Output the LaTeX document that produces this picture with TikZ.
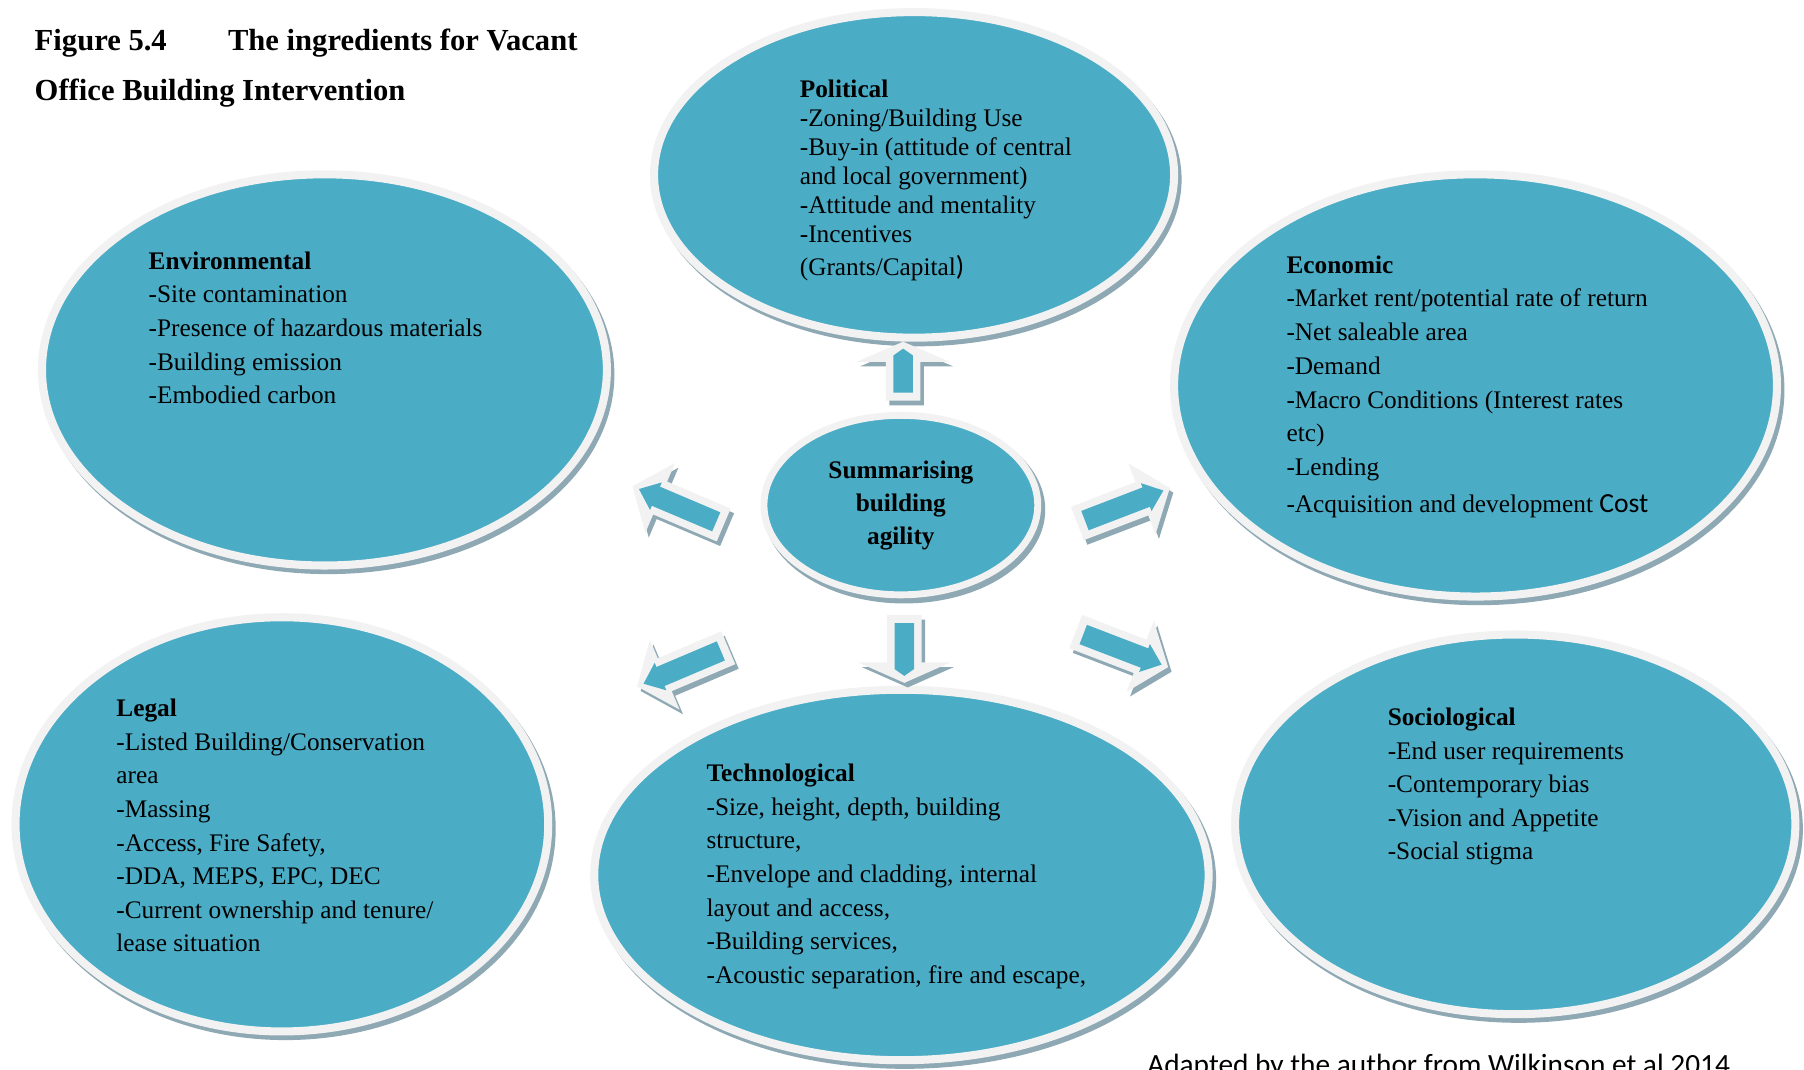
\documentclass[tikz,border=0pt]{standalone}
\usepackage{fontspec}
\setmainfont{Liberation Serif}
\newfontfamily\calib{Carlito}
\usetikzlibrary{shapes.geometric}
\definecolor{tealc}{HTML}{4BACC6}
\definecolor{rimc}{HTML}{F2F2F2}
\definecolor{shadowc}{HTML}{8EA9B4}
% a left-aligned stack of lines whose baseline is the first line
\newcommand\itemstack[1]{\begin{tabular}[t]{@{}l@{}}#1\end{tabular}}
% block arrow with a light rim and a teal core
% #1,#2 tail centre, #3 direction, #4 length, #5 head length, #6 head half-width,
% #7 shaft half-width, #8 core head half-width, #9 core head length
\newcommand\fatarrowat[9]{%
  \pgfmathsetmacro\shaftend{#4-#5}%
  \pgfmathsetmacro\corew{#7-6.5}%
  \pgfmathsetmacro\coretip{#4-6}%
  \pgfmathsetmacro\corehead{#4-6-#9}%
  \begin{scope}[shift={(#1+3,#2+4)}, rotate=#3]
    \fill[shadowc] (0,-#7) -- (\shaftend,-#7) -- (\shaftend,-#6) -- (#4,0)
      -- (\shaftend,#6) -- (\shaftend,#7) -- (0,#7) -- cycle;
  \end{scope}
  \begin{scope}[shift={(#1,#2)}, rotate=#3]
    \fill[rimc] (0,-#7) -- (\shaftend,-#7) -- (\shaftend,-#6) -- (#4,0)
      -- (\shaftend,#6) -- (\shaftend,#7) -- (0,#7) -- cycle;
    \fill[tealc] (7,-\corew) -- (\corehead,-\corew) -- (\corehead,-#8) -- (\coretip,0)
      -- (\corehead,#8) -- (\corehead,\corew) -- (7,\corew) -- cycle;
  \end{scope}}
\tikzset{
  oval/.style={ellipse, fill=tealc, draw=rimc, line width=7pt, inner sep=0pt, outer sep=0pt,
    preaction={fill=shadowc, draw=shadowc, line width=7pt, transform canvas={shift={(3pt,-4pt)}}}},
  bodytext/.style={anchor=base west, inner sep=0pt, text=black, font=\fontsize{22}{29.2}\selectfont},
  titletext/.style={anchor=base west, inner sep=0pt, text=black, font=\fontsize{26.6}{30}\selectfont\bfseries},
}
\begin{document}
\begin{tikzpicture}[x=1pt, y=-1pt]
\useasboundingbox (0,0) rectangle (1568,930);
\fill[white] (0,0) rectangle (1568,930);

% heading
\node[titletext] (figno) at (30,43.5) {Figure 5.4};
\node[titletext] (figtitle) at (198,43.5) {The ingredients for Vacant};
\node[titletext] (figtitle2) at (30,87) {Office Building Intervention};

% the seven ovals
\node[oval, minimum width=452pt, minimum height=283pt] (political) at (794.5,152) {};
\node[oval, minimum width=491pt, minimum height=340pt] (environmental) at (282,321.5) {};
\node[oval, minimum width=524pt, minimum height=367pt] (economic) at (1282.5,335) {};
\node[oval, line width=6pt, preaction={line width=6pt}, minimum width=238pt, minimum height=156pt] (centre) at (783,439) {};
\node[oval, minimum width=463pt, minimum height=360pt] (legal) at (245,716.5) {};
\node[oval, minimum width=534pt, minimum height=322pt] (technological) at (783.5,760.5) {};
\node[oval, minimum width=487pt, minimum height=330pt] (sociological) at (1317,716.5) {};

% block arrows from the centre outwards
\fatarrowat{785}{348.3}{90}{51.3}{17.5}{40.5}{15}{8.5}{6}
\fatarrowat{786}{534.5}{-90}{59}{17.7}{40}{15}{8.5}{6}
\fatarrowat{629}{456.3}{157}{86}{26}{33}{15.5}{13}{16}
\fatarrowat{936.5}{455}{21}{86}{26}{33}{15.5}{13}{16}
\fatarrowat{633}{563}{203}{86}{26}{33}{15.5}{13}{16}
\fatarrowat{935}{549}{-21}{86}{26}{33}{15.5}{13}{16}

% texts
\node[anchor=base, inner sep=0pt, font=\fontsize{22}{29}\selectfont\bfseries] (centretext) at (783,415.6)
  {\begin{tabular}[t]{@{}c@{}}Summarising\\building\\agility\end{tabular}};

\node[bodytext, font=\fontsize{22}{25.2}\selectfont] (politicaltext) at (695,84.5) {\itemstack{%
  \textbf{Political}\\-Zoning/Building Use\\-Buy-in (attitude of central\\and local government)\\%
  -Attitude and mentality\\-Incentives\\[4pt](Grants/Capital{\calib\fontsize{24}{25}\selectfont)}}};

\node[bodytext] (environmentaltext) at (129,234) {\itemstack{%
  \textbf{Environmental}\\-Site contamination\\-Presence of hazardous materials\\%
  -Building emission\\-Embodied carbon}};

\node[bodytext, font=\fontsize{22}{29.3}\selectfont] (economictext) at (1118,237.5) {\itemstack{%
  \textbf{Economic}\\-Market rent/potential rate of return\\-Net saleable area\\-Demand\\%
  -Macro Conditions (Interest rates\\etc)\\-Lending\\[3pt]%
  -Acquisition and development {\calib\fontsize{24}{29}\selectfont Cost}}};

\node[bodytext] (legaltext) at (101,623) {\itemstack{%
  \textbf{Legal}\\-Listed Building/Conservation\\area\\-Massing\\-Access, Fire Safety,\\%
  -DDA, MEPS, EPC, DEC\\-Current ownership and tenure/\\lease situation}};

\node[bodytext] (technologicaltext) at (614,679.5) {\itemstack{%
  \textbf{Technological}\\-Size, height, depth, building\\structure,\\%
  -Envelope and cladding, internal\\layout and access,\\-Building services,\\%
  -Acoustic separation, fire and escape,}};

\node[bodytext] (sociologicaltext) at (1206,630.5) {\itemstack{%
  \textbf{Sociological}\\-End user requirements\\-Contemporary bias\\%
  -Vision and Appetite\\-Social stigma}};

\node[anchor=base west, inner sep=0pt, font=\calib\fontsize{25.5}{30}\selectfont] (credit) at (997,934)
  {Adapted by the author from Wilkinson et al 2014};
\end{tikzpicture}
\end{document}
